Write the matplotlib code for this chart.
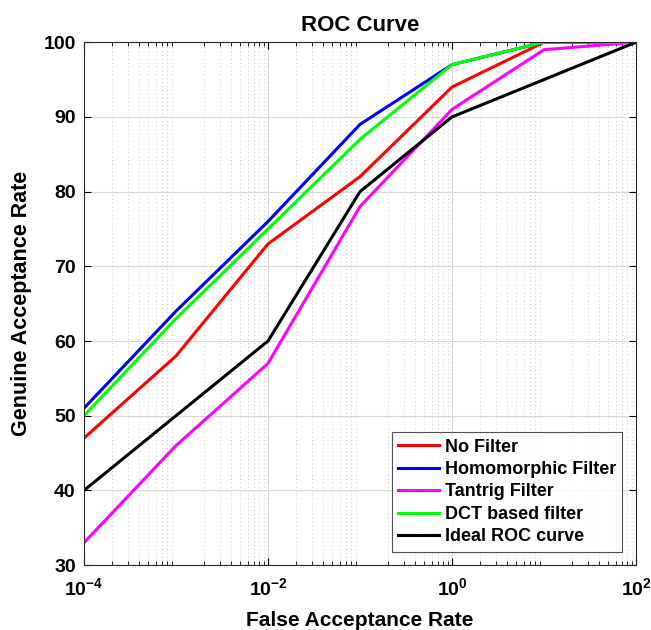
import matplotlib
matplotlib.use("Agg")
import matplotlib.pyplot as plt
import numpy as np

far = [1e-4, 1e-3, 1e-2, 1e-1, 1, 10, 100]
no_filter = [47, 58, 73, 82, 94, 100, 100]
homomorphic = [51, 64, 76, 89, 97, 100, 100]
tantrig = [33, 46, 57, 78, 91, 99, 100]
dct = [50, 63, 75, 87, 97, 100, 100]
ideal = [40, 50, 60, 80, 90, 95, 100]

labels = ["No Filter", "Homomorphic Filter", "Tantrig Filter", "DCT based filter", "Ideal ROC curve"]
colors = ["#ff0000", "#0000ff", "#ff00ff", "#00ff00", "#000000"]
series = [no_filter, homomorphic, tantrig, dct, ideal]

plt.rcParams['font.family'] = ['Liberation Sans', 'DejaVu Sans']
plt.rcParams['font.weight'] = 'bold'

fig = plt.figure(figsize=(6.51, 6.30), dpi=100)
ax = fig.add_axes([0.129, 0.103, 0.848, 0.830])

for y, c, l in zip(series, colors, labels):
    ax.plot(far, y, color=c, lw=2.2, label=l)

ax.set_xscale('log')
ax.set_xlim(1e-4, 1e2)
ax.set_ylim(30, 100)
ax.set_xticks([1e-4, 1e-2, 1e0, 1e2])
ax.set_yticks(np.arange(30, 101, 10))
ax.xaxis.set_minor_locator(matplotlib.ticker.LogLocator(base=10, subs=np.arange(2, 10), numticks=20))
ax.xaxis.set_minor_formatter(matplotlib.ticker.NullFormatter())

ax.grid(True, which='major', color='#d9d9d9', lw=0.8, ls='-')
ax.grid(True, which='minor', axis='x', color='#c8c8c8', lw=0.7, ls=(0, (1, 3)))
ax.set_axisbelow(True)

ax.tick_params(axis='both', which='major', labelsize=14, direction='in', length=5, top=True, right=True, pad=6)
ax.tick_params(axis='x', which='major', pad=9)
ax.tick_params(axis='x', which='minor', direction='in', length=3, top=True, bottom=True)
for lab in ax.get_xticklabels() + ax.get_yticklabels():
    lab.set_fontweight('bold')

for s in ax.spines.values():
    s.set_color('#262626')
    s.set_linewidth(0.8)

ax.set_title("ROC Curve", fontsize=16, fontweight='bold', pad=8)
ax.set_xlabel("False Acceptance Rate", fontsize=15, fontweight='bold', labelpad=8)
ax.set_ylabel("Genuine Acceptance Rate", fontsize=15.5, fontweight='bold', labelpad=8)

leg = ax.legend(loc='lower right', fontsize=13, frameon=True, fancybox=False,
                edgecolor='#262626', handlelength=2.3, handletextpad=0.3,
                borderpad=0.35, labelspacing=0.3, borderaxespad=0.75)
leg.get_frame().set_linewidth(0.8)
for t in leg.get_texts():
    t.set_fontweight('bold')

fig.savefig("out.png", dpi=100)
